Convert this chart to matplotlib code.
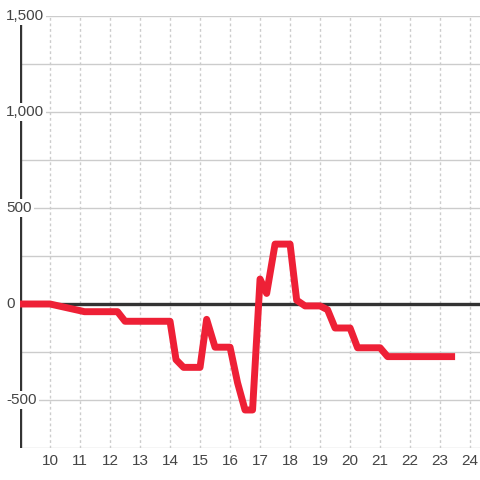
"""Intraday change line chart, recreated with matplotlib."""

import matplotlib.pyplot as plt
from matplotlib.transforms import blended_transform_factory

# hour of day and value
hours = [9, 10, 11.15, 12.25, 12.5, 14, 14.2, 14.45, 15, 15.22, 15.5, 16,
         16.25, 16.5, 16.75, 17, 17.22, 17.5, 18, 18.22, 18.5, 19, 19.25,
         19.5, 20, 20.25, 21, 21.25, 23.5]
values = [0, 0, -40, -40, -90, -90, -290, -330, -330, -80, -225, -225,
          -410, -552, -552, 130, 55, 312, 312, 20, -10, -10, -30,
          -125, -125, -228, -228, -274, -274]

x_ticks = list(range(10, 25))
y_grid = [-750, -500, -250, 0, 250, 500, 750, 1000, 1250, 1500]
y_labels = [-500, 0, 500, 1000, 1500]

LINE_RED = "#ee2036"
DARK = "#333333"
GRID = "#cccccc"
TEXT = "#444444"

plt.rcParams["font.family"] = ["Liberation Sans", "DejaVu Sans"]

fig = plt.figure(figsize=(4.8, 4.8), dpi=100)
ax = fig.add_axes([20 / 480, 32 / 480, 460 / 480, 432 / 480])
ax.set_xlim(9, 24.33)
ax.set_ylim(-750, 1500)

for s in ax.spines.values():
    s.set_visible(False)
ax.set_xticks([])
ax.set_yticks([])

for y in y_grid:
    ax.axhline(y, color=GRID, lw=1, zorder=1)
for x in x_ticks:
    ax.axvline(x, color=GRID, lw=1, ls=(0, (2, 2)), zorder=1)

ax.axhline(0, color=DARK, lw=2.4, zorder=3)
ax.axvline(9, color=DARK, lw=2.4, zorder=3)

ax.plot(hours, values, color=LINE_RED, lw=5, zorder=4,
        solid_joinstyle="round", solid_capstyle="butt")

# y labels sit on top of the axis line with a white box
ytrans = blended_transform_factory(fig.transFigure, ax.transData)
for v in y_labels:
    ax.text(6 / 480, v, f"{v:,}", transform=ytrans, ha="left", va="center",
            fontsize=11, color=TEXT, zorder=6, clip_on=False,
            bbox=dict(facecolor="white", edgecolor="none", pad=1.5))

xtrans = blended_transform_factory(ax.transData, fig.transFigure)
for h in x_ticks:
    ax.text(h, 1 - 461 / 480, str(h), transform=xtrans, ha="center",
            va="center", fontsize=11, color=TEXT, clip_on=False)

fig.savefig("out.png", dpi=100, facecolor="white")
